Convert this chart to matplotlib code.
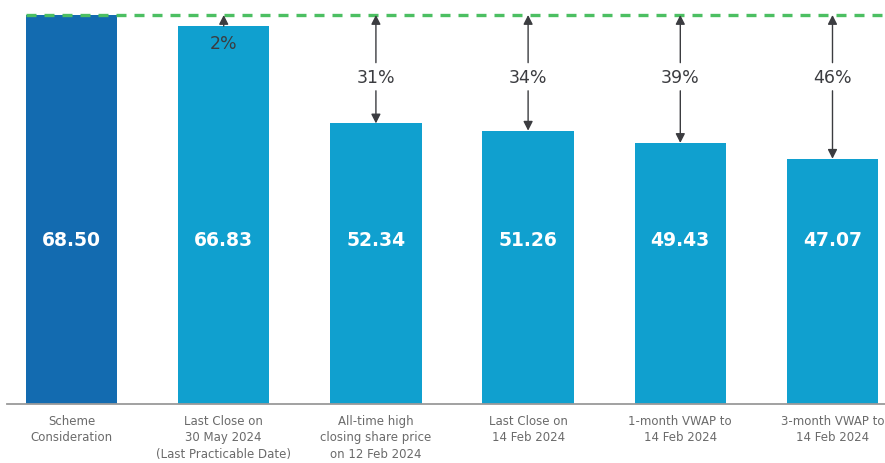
import matplotlib.pyplot as plt

# share price reference points (S$)
labels = ["Scheme\nConsideration",
          "Last Close on\n30 May 2024\n(Last Practicable Date)",
          "All-time high\nclosing share price\non 12 Feb 2024",
          "Last Close on\n14 Feb 2024",
          "1-month VWAP to\n14 Feb 2024",
          "3-month VWAP to\n14 Feb 2024"]
prices = [68.50, 66.83, 52.34, 51.26, 49.43, 47.07]

offer = prices[0]
premiums = [round((offer / p - 1) * 100) for p in prices[1:]]

dark_blue = "#136bb0"
light_blue = "#10a0cf"
arrow_col = "#3b3c40"

fig = plt.figure(figsize=(8.85, 4.64), dpi=100)
ax = fig.add_axes([7 / 885, 59 / 464, 878 / 885, 405 / 464])

x = list(range(len(prices)))
colors = [dark_blue] + [light_blue] * (len(prices) - 1)
ax.bar(x, prices, width=0.6, color=colors, zorder=2)

ax.set_xlim(-0.424, 5.345)
ax.set_ylim(10.5, 70.89)

# offer price reference line
ax.plot([-0.3, 5.345], [offer, offer], ls=(0, (3, 2.4)), color="#4cbf62",
        lw=2.4, zorder=3, clip_on=False)

for i, p in enumerate(prices):
    ax.text(i, 35.1, f"{p:.2f}", ha="center", va="center", color="white",
            fontsize=13.5, fontweight="bold", zorder=4)

arrow_kw = dict(arrowstyle="-|>,head_length=0.55,head_width=0.28",
                color=arrow_col, lw=1.0, shrinkA=0, shrinkB=0)

for i, (p, pct) in enumerate(zip(prices[1:], premiums), start=1):
    if offer - p < 4:
        # small gap: single arrow up, label sits inside the bar
        ax.annotate("", xy=(i, offer), xytext=(i, p), arrowprops=arrow_kw, zorder=5)
        ax.text(i, 64.3, f"{pct}%", ha="center", va="center", color=arrow_col,
                fontsize=12.5, zorder=5)
    else:
        ax.annotate("", xy=(i, offer), xytext=(i, 61.4), arrowprops=arrow_kw, zorder=5)
        ax.annotate("", xy=(i, p), xytext=(i, 57.2), arrowprops=arrow_kw, zorder=5)
        ax.text(i, 59.3, f"{pct}%", ha="center", va="center", color=arrow_col,
                fontsize=12.5, zorder=5)

for s in ["top", "left", "right"]:
    ax.spines[s].set_visible(False)
ax.spines["bottom"].set_color("#9a9a9a")
ax.spines["bottom"].set_linewidth(1.3)
ax.set_yticks([])
ax.set_xticks(x)
ax.set_xticklabels(labels, fontsize=8.5, color="#6a6a6a", linespacing=1.35)
ax.tick_params(axis="x", length=0, pad=7)

fig.savefig("out.png", dpi=100)
